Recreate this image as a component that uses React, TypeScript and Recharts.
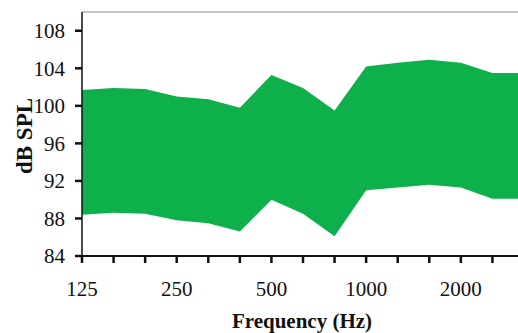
import React from 'react';
import { ComposedChart, Area, XAxis, YAxis, ReferenceLine, Label } from 'recharts';

const freqLabels = ['125', '160', '200', '250', '315', '400', '500', '630', '800', '1000', '1250', '1600', '2000', '2500', '3150'];
const upperValues = [101.7, 101.9, 101.8, 101.0, 100.7, 99.8, 103.3, 101.9, 99.5, 104.2, 104.6, 104.9, 104.6, 103.5, 103.5];
const lowerValues = [88.4, 88.6, 88.5, 87.8, 87.5, 86.6, 90.0, 88.5, 86.1, 91.0, 91.3, 91.6, 91.3, 90.1, 90.1];
const shownLabels = ['125', '250', '500', '1000', '2000'];
const yTicks = [84, 88, 92, 96, 100, 104, 108];

const data = freqLabels.map((f, i) => ({ i, f, low: lowerValues[i], high: upperValues[i] }));
const xTicks = freqLabels.map((_, i) => i).slice(0, 14);

const FONT = '"Liberation Serif", "Times New Roman", serif';

export default function App() {
  return (
    <div style={{ position: 'absolute', left: 0, top: 0, width: 518, height: 333, overflow: 'hidden', background: '#fff' }}>
      <ComposedChart width={530} height={333} data={data} margin={{ top: 12, right: 6, bottom: 0, left: 0 }}>
        <XAxis
          dataKey="i"
          type="number"
          domain={[0, 14]}
          ticks={xTicks}
          allowDataOverflow
          interval={0}
          tickFormatter={(v: number) => (shownLabels.includes(freqLabels[v]) ? freqLabels[v] : '')}
          axisLine={{ stroke: '#111', strokeWidth: 2 }}
          tickLine={{ stroke: '#111', strokeWidth: 2.5 }}
          tickSize={7}
          tickMargin={18}
          height={77}
          tick={{ fontFamily: FONT, fontSize: 21, fill: '#111' }}
        >
          <Label
            content={() => (
              <text x={302} y={328} textAnchor="middle" fontFamily={FONT} fontWeight="bold" fontSize={21} fill="#111">
                Frequency (Hz)
              </text>
            )}
          />
        </XAxis>
        <YAxis
          type="number"
          domain={[84, 110]}
          ticks={yTicks}
          width={82}
          allowDataOverflow
          axisLine={{ stroke: '#111', strokeWidth: 1.5 }}
          tickLine={{ stroke: '#111', strokeWidth: 2.5 }}
          tickSize={7}
          tickMargin={10}
          tick={{ fontFamily: FONT, fontSize: 21, fill: '#111' }}
        >
          <Label
            content={() => (
              <text x={32} y={136} transform="rotate(-90,32,136)" textAnchor="middle" fontFamily={FONT} fontWeight="bold" fontSize={23} fill="#111">
                dB SPL
              </text>
            )}
          />
        </YAxis>
        <ReferenceLine y={110} stroke="#c8c8c8" strokeWidth={2} />
        <Area
          dataKey={(d: any) => [d.low, d.high]}
          type="linear"
          fill="#0db04b"
          fillOpacity={1}
          stroke="none"
          isAnimationActive={false}
        />
      </ComposedChart>
    </div>
  );
}
